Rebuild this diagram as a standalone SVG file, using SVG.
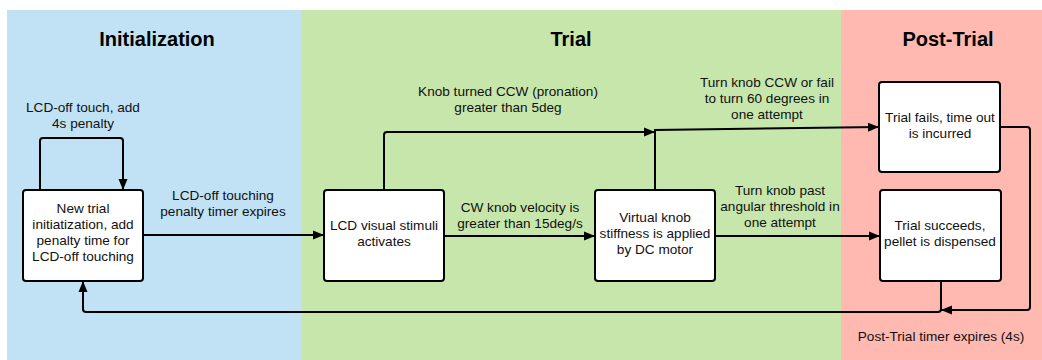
<svg xmlns="http://www.w3.org/2000/svg" width="1042" height="360" viewBox="0 0 1042 360">
<style>
.t{font-family:"Liberation Sans",Arial,sans-serif;font-size:13.6px;fill:#111;text-anchor:middle}
.h{font-family:"Liberation Sans",Arial,sans-serif;font-size:20px;font-weight:bold;fill:#000;text-anchor:middle}
.n{fill:#fff;stroke:#000;stroke-width:2}
.c{fill:none;stroke:#000;stroke-width:2;marker-end:url(#a)}
</style>
<defs>
<marker id="a" markerUnits="userSpaceOnUse" markerWidth="12" markerHeight="10" refX="11" refY="5" orient="auto">
<path d="M0,0.5 L11,5 L0,9.5 z" fill="#000"/>
</marker>
</defs>
<g id="lanes">
<rect x="7" y="10" width="294" height="350" fill="#c1e2f5"/>
<rect x="301" y="10" width="540" height="350" fill="#c6e6ac"/>
<rect x="841" y="10" width="201" height="350" fill="#ffb9b0"/>
<text class="h" x="157" y="46">Initialization</text>
<text class="h" x="571" y="46">Trial</text>
<text class="h" x="948" y="46">Post-Trial</text>
</g>
<g id="connectors">
<path class="c" d="M40,190 V141 Q40,138 43,138 H120 Q123,138 123,141 V190"/>
<path class="c" d="M143,235 H324"/>
<path class="c" d="M444,236 H595"/>
<path class="c" d="M384,190 V135 Q384,132 387,132 H655"/>
<path class="c" d="M655,190 V130 L879,127"/>
<path class="c" d="M715,236 H880"/>
<path class="c" d="M1001,127 H1027 Q1030,127 1030,130 V307 Q1030,310 1027,310 H941"/>
<path class="c" d="M941,281 V309 Q941,312 938,312 H86 Q83,312 83,309 V281"/>
<text class="t" x="83" y="112">LCD-off touch, add</text>
<text class="t" x="83" y="128">4s penalty</text>
<text class="t" x="223" y="200">LCD-off touching</text>
<text class="t" x="223" y="216">penalty timer expires</text>
<text class="t" x="508" y="96">Knob turned CCW (pronation)</text>
<text class="t" x="508" y="112">greater than 5deg</text>
<text class="t" x="520" y="212">CW knob velocity is</text>
<text class="t" x="520" y="228">greater than 15deg/s</text>
<text class="t" x="767" y="87">Turn knob CCW or fail</text>
<text class="t" x="767" y="103">to turn 60 degrees in</text>
<text class="t" x="767" y="119">one attempt</text>
<text class="t" x="780" y="195">Turn knob past</text>
<text class="t" x="780" y="211">angular threshold in</text>
<text class="t" x="780" y="227">one attempt</text>
<text class="t" x="941" y="341">Post-Trial timer expires (4s)</text>
</g>
<g id="node-init">
<rect class="n" x="23" y="190" width="120" height="91" rx="3"/>
<text class="t" x="83" y="213">New trial</text>
<text class="t" x="83" y="229">initiatization, add</text>
<text class="t" x="83" y="245">penalty time for</text>
<text class="t" x="83" y="261">LCD-off touching</text>
</g>
<g id="node-lcd">
<rect class="n" x="324" y="190" width="120" height="91" rx="3"/>
<text class="t" x="384" y="230">LCD visual stimuli</text>
<text class="t" x="384" y="246">activates</text>
</g>
<g id="node-knob">
<rect class="n" x="595" y="190" width="120" height="91" rx="3"/>
<text class="t" x="655" y="222">Virtual knob</text>
<text class="t" x="655" y="238">stiffness is applied</text>
<text class="t" x="655" y="254">by DC motor</text>
</g>
<g id="node-fail">
<rect class="n" x="879" y="82" width="121" height="90" rx="3"/>
<text class="t" x="940" y="122">Trial fails, time out</text>
<text class="t" x="940" y="138">is incurred</text>
</g>
<g id="node-success">
<rect class="n" x="880" y="190" width="121" height="91" rx="3"/>
<text class="t" x="940" y="230">Trial succeeds,</text>
<text class="t" x="940" y="246">pellet is dispensed</text>
</g>
</svg>
